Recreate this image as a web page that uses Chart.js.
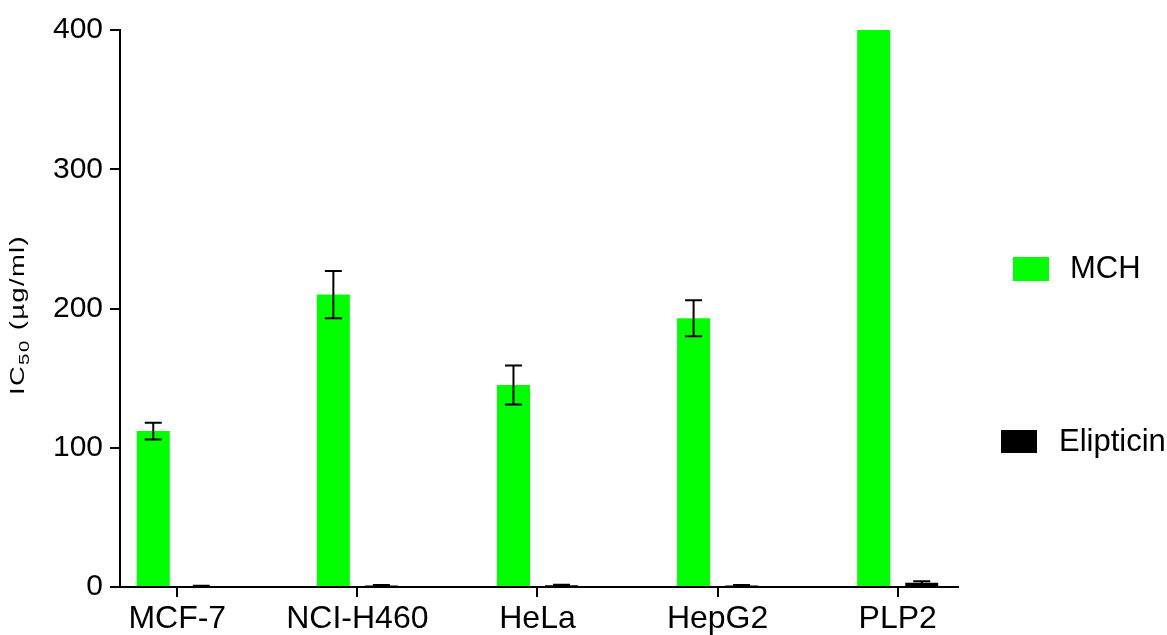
<!DOCTYPE html>
<html>
<head>
<meta charset="utf-8">
<title>IC50 by cell line</title>
<script src="https://cdn.jsdelivr.net/npm/chart.js@4.4.1/dist/chart.umd.min.js"></script>
<style>
  html, body { margin: 0; padding: 0; background: #fff; }
  #wrap { width: 1167px; height: 635px; }
</style>
</head>
<body>
<div id="wrap"><canvas id="chart" width="1167" height="635"></canvas></div>
<script>
// Cell lines and IC50 values (µg/ml), mean and error
const cellLines = ['MCF-7', 'NCI-H460', 'HeLa', 'HepG2', 'PLP2'];
const mchValues = [112, 210, 145, 193, 400];
const mchErrors = [6, 17, 14, 13, 0];
const elipticinValues = [0.6, 1.0, 1.3, 1.0, 3.0];
const elipticinErrors = [0.3, 0.4, 0.4, 0.4, 1.2];
const yTicks = [0, 100, 200, 300, 400];

const FONT = '"Liberation Sans", Arial, Helvetica, sans-serif';

// Vertical error bars with caps, drawn over each bar
const errorBars = {
  id: 'errorBars',
  afterDatasetsDraw(chart) {
    const ctx = chart.ctx;
    const yScale = chart.scales.y;
    chart.data.datasets.forEach((ds, di) => {
      if (!ds.errors) return;
      const meta = chart.getDatasetMeta(di);
      meta.data.forEach((bar, i) => {
        const e = ds.errors[i];
        if (!e) return;
        const v = ds.data[i].y;
        const top = yScale.getPixelForValue(v + e);
        const bot = yScale.getPixelForValue(Math.max(v - e, 0));
        const half = 8.5;
        ctx.save();
        ctx.strokeStyle = '#000';
        ctx.lineWidth = 2;
        ctx.beginPath();
        ctx.moveTo(bar.x, top); ctx.lineTo(bar.x, bot);
        ctx.moveTo(bar.x - half, top); ctx.lineTo(bar.x + half, top);
        ctx.moveTo(bar.x - half, bot); ctx.lineTo(bar.x + half, bot);
        ctx.stroke();
        ctx.restore();
      });
    });
  }
};

// Y axis title with subscript: IC50 (µg/ml)
const yTitle = {
  id: 'yTitle',
  afterDraw(chart) {
    const ctx = chart.ctx;
    const parts = [
      { t: 'IC', size: 20, dy: 0 },
      { t: '50', size: 15, dy: 5 },
      { t: ' (\u00b5g/ml)', size: 20, dy: 0 }
    ];
    ctx.save();
    ctx.fillStyle = '#000';
    if ('letterSpacing' in ctx) ctx.letterSpacing = '1px';
    let w = 0;
    parts.forEach(p => { ctx.font = p.size + 'px ' + FONT; p.w = ctx.measureText(p.t).width; w += p.w; });
    const target = 160;
    const sx = target / w;
    ctx.translate(24, 315);
    ctx.rotate(-Math.PI / 2);
    ctx.scale(sx, 1);
    ctx.textBaseline = 'alphabetic';
    ctx.textAlign = 'left';
    let x = -w / 2;
    parts.forEach(p => {
      ctx.font = p.size + 'px ' + FONT;
      ctx.fillText(p.t, x, p.dy);
      x += p.w;
    });
    ctx.restore();
  }
};

// Legend on the right, one entry per dataset
const sideLegend = {
  id: 'sideLegend',
  afterDraw(chart) {
    const ctx = chart.ctx;
    const slots = [
      { bx: 1013, by: 257, bw: 36, bh: 24, tx: 1070, cy: 269.5 },
      { bx: 1001, by: 430, bw: 36, bh: 23, tx: 1059, cy: 442 }
    ];
    ctx.save();
    chart.data.datasets.forEach((ds, i) => {
      const s = slots[i];
      ctx.fillStyle = ds.backgroundColor;
      ctx.fillRect(s.bx, s.by, s.bw, s.bh);
      ctx.fillStyle = '#000';
      ctx.font = '31px ' + FONT;
      ctx.textBaseline = 'middle';
      ctx.textAlign = 'left';
      ctx.fillText(ds.label, s.tx, s.cy);
    });
    ctx.restore();
  }
};

const toPoints = vals => vals.map((v, i) => ({ x: i, y: v }));

new Chart(document.getElementById('chart'), {
  type: 'bar',
  data: {
    datasets: [
      { label: 'MCH', data: toPoints(mchValues), errors: mchErrors, backgroundColor: '#00ff00' },
      { label: 'Elipticin', data: toPoints(elipticinValues), errors: elipticinErrors, backgroundColor: '#000000' }
    ]
  },
  options: {
    responsive: false,
    animation: false,
    devicePixelRatio: 1,
    layout: { padding: { left: 0, top: 30, right: 209.5, bottom: 0 } },
    datasets: {
      bar: { categoryPercentage: 0.5333, barPercentage: 0.6875, borderWidth: 0 }
    },
    plugins: {
      legend: { display: false },
      tooltip: { enabled: false }
    },
    scales: {
      x: {
        type: 'linear',
        offset: false,
        min: -0.318,
        max: 4.332,
        grid: { display: true, offset: false, drawOnChartArea: false, drawTicks: true, tickLength: 10, color: '#000', lineWidth: 2 },
        border: { display: true, color: '#000', width: 2 },
        ticks: {
          color: '#000',
          font: { family: FONT, size: 32 },
          padding: 3,
          maxRotation: 0,
          autoSkip: false,
          callback: v => cellLines[v] ?? ''
        },
        afterBuildTicks: s => { s.ticks = cellLines.map((_, i) => ({ value: i })); },
        afterFit: s => { s.height = 48; }
      },
      y: {
        min: 0,
        max: 400,
        grid: { display: true, drawOnChartArea: false, drawTicks: true, tickLength: 10, color: '#000', lineWidth: 2 },
        border: { display: true, color: '#000', width: 2 },
        ticks: {
          color: '#000',
          font: { family: FONT, size: 30 },
          padding: 7,
          stepSize: 100
        },
        afterBuildTicks: s => { s.ticks = yTicks.map(v => ({ value: v })); },
        afterFit: s => { s.width = 120; }
      }
    }
  },
  plugins: [errorBars, yTitle, sideLegend]
});
</script>
</body>
</html>
